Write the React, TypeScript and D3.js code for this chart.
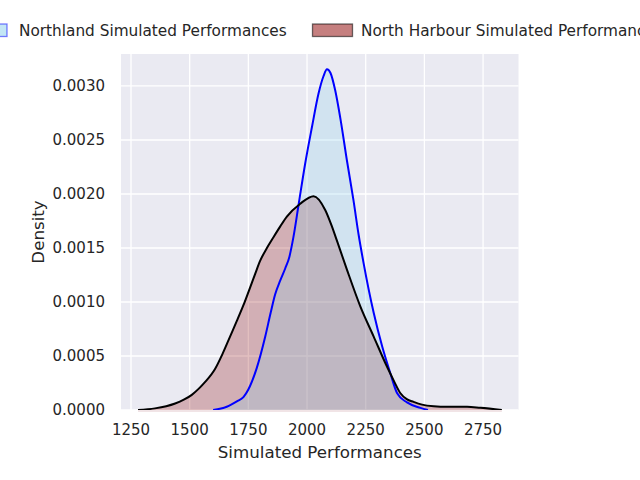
import React from "react";
import * as d3 from "d3";

const northlandX = [1600, 1658, 1701, 1729, 1750, 1786, 1822, 1845, 1864, 1886, 1907, 1925, 1942, 1964, 1992, 2021, 2049, 2070, 2085, 2100, 2120, 2142, 2170, 2198, 2220, 2241, 2284, 2320, 2355, 2384, 2426, 2483, 2515];
const northlandY = [0, 0.00003, 0.00008, 0.00012, 0.00019, 0.00039, 0.00068, 0.0009, 0.00107, 0.0012, 0.00131, 0.00142, 0.0016, 0.0019, 0.00228, 0.00262, 0.00293, 0.00309, 0.003155, 0.00312, 0.00296, 0.0027, 0.00231, 0.00194, 0.00162, 0.00136, 0.0009, 0.00059, 0.00034, 0.000155, 0.00007, 0.00002, 0];

const harbourX = [1280, 1352, 1400, 1438, 1475, 1509, 1540, 1566, 1608, 1640, 1672, 1700, 1729, 1755, 1779, 1800, 1829, 1857, 1886, 1914, 1971, 2028, 2078, 2106, 2127, 2170, 2227, 2284, 2341, 2370, 2398, 2425, 2454, 2490, 2540, 2597, 2682, 2739, 2830];
const harbourY = [0, 0.000015, 0.000035, 0.00006, 0.000095, 0.00014, 0.0002, 0.00026, 0.00038, 0.00052, 0.00068, 0.00082, 0.00097, 0.00112, 0.00126, 0.00138, 0.0015, 0.0016, 0.0017, 0.00179, 0.00191, 0.00198, 0.00185, 0.0017, 0.00157, 0.0013, 0.00096, 0.00068, 0.0004, 0.00027, 0.000155, 0.0001, 0.000075, 0.00005, 0.000035, 0.00003, 0.00003, 0.00002, 0];

const xTicks = [1250, 1500, 1750, 2000, 2250, 2500, 2750];
const yTicks = [0, 0.0005, 0.001, 0.0015, 0.002, 0.0025, 0.003];
const seriesNames = ["Northland Simulated Performances", "North Harbour Simulated Performances"];

const W = 640, H = 480;
const L = 121, R = 518.5, T = 54, B = 410;
const FONT = "DejaVu Sans, sans-serif";
const TXT = "#262626";

export default function App() {
  const x = d3.scaleLinear().domain([1207.4, 2901]).range([L, R]);
  const y = d3.scaleLinear().domain([0, 0.003296]).range([B, T]);

  const nl = northlandX.map((v, i) => [v, northlandY[i]] as [number, number]);
  const nh = harbourX.map((v, i) => [v, harbourY[i]] as [number, number]);

  const area = d3.area<[number, number]>().x(d => x(d[0])).y0(B).y1(d => y(d[1])).curve(d3.curveMonotoneX);
  const line = d3.line<[number, number]>().x(d => x(d[0])).y(d => y(d[1])).curve(d3.curveMonotoneX);

  return (
    <svg width={W} height={H} style={{ position: "absolute", left: 0, top: 0 }} fontFamily={FONT}>
      <rect width={W} height={H} fill="#ffffff" />
      <rect x={L} y={T} width={R - L} height={B - T} fill="#eaeaf2" />
      <defs>
        <clipPath id="plot">
          <rect x={L} y={T} width={R - L} height={B - T} />
        </clipPath>
      </defs>
      {xTicks.map(t => (
        <line key={"gx" + t} x1={x(t)} x2={x(t)} y1={T} y2={B} stroke="#ffffff" strokeWidth={1.3} />
      ))}
      {yTicks.map(t => (
        <line key={"gy" + t} x1={L} x2={R} y1={y(t)} y2={y(t)} stroke="#ffffff" strokeWidth={1.3} />
      ))}
      <g clipPath="url(#plot)">
        <path d={area(nh) || ""} fill="#8b0000" fillOpacity={0.25} />
        <path d={area(nl) || ""} fill="#87ceeb" fillOpacity={0.25} />
        <path d={line(nl) || ""} fill="none" stroke="#0000ff" strokeWidth={2} strokeLinejoin="round" />
        <path d={line(nh) || ""} fill="none" stroke="#000000" strokeWidth={2} strokeLinejoin="round" />
      </g>
      <line x1={x(harbourX[0])} x2={x(harbourX[harbourX.length - 1])} y1={B + 1} y2={B + 1} stroke="#f1e4e6" strokeWidth={2} />
      {xTicks.map(t => (
        <text key={"tx" + t} x={x(t)} y={435} textAnchor="middle" fontSize={15} fill={TXT}>{t}</text>
      ))}
      {yTicks.map(t => (
        <text key={"ty" + t} x={105} y={y(t)} dy="0.36em" textAnchor="end" fontSize={15} fill={TXT}>{t.toFixed(4)}</text>
      ))}
      <text x={(L + R) / 2} y={458} textAnchor="middle" fontSize={16.7} fill={TXT}>Simulated Performances</text>
      <text transform={`translate(44,${(T + B) / 2}) rotate(-90)`} textAnchor="middle" fontSize={16.7} fill={TXT}>Density</text>
      <g>
        <rect x={-33} y={24} width={40} height={12.5} fill="#87ceeb" fillOpacity={0.5} stroke="#0000ff" strokeOpacity={0.5} strokeWidth={1.3} />
        <text x={19} y={36} fontSize={15.3} fill={TXT}>{seriesNames[0]}</text>
        <rect x={312.5} y={24} width={40} height={12.5} fill="#8b0000" fillOpacity={0.5} stroke="#000000" strokeOpacity={0.55} strokeWidth={1.3} />
        <text x={361} y={36} fontSize={15.3} fill={TXT}>{seriesNames[1]}</text>
      </g>
    </svg>
  );
}
